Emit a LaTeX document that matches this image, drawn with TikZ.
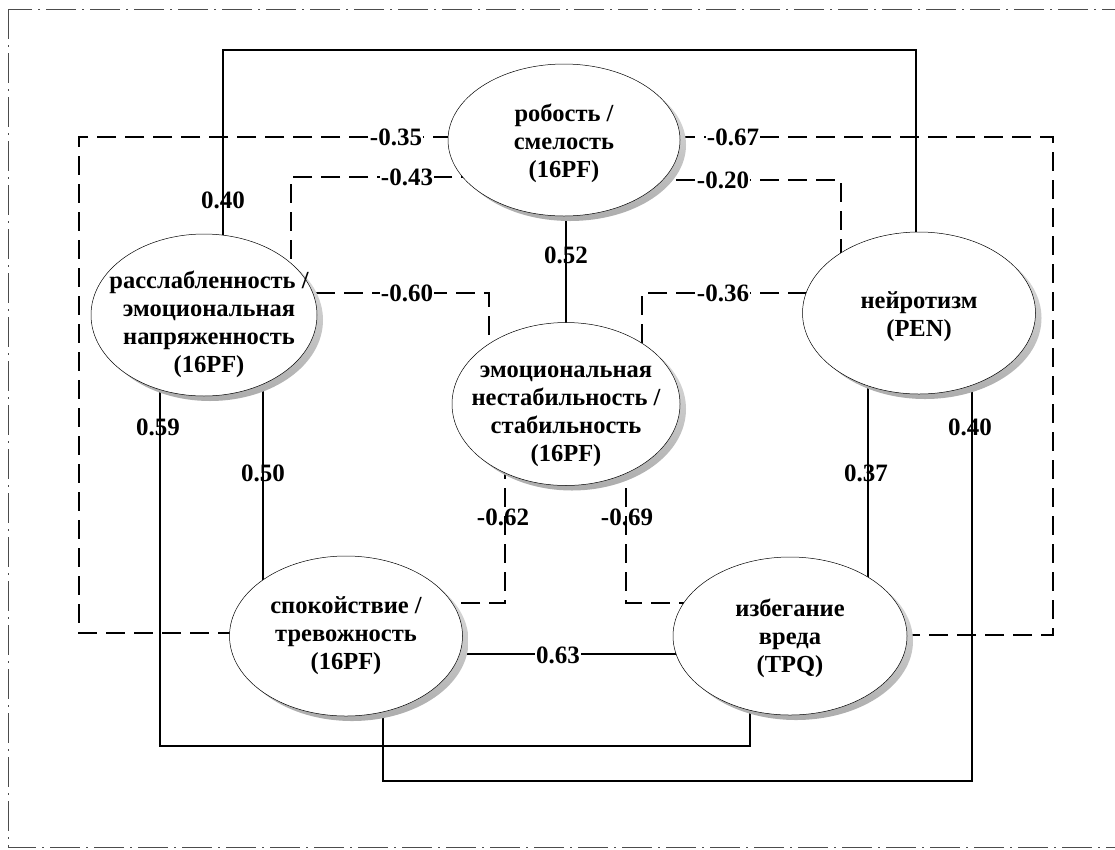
\documentclass[tikz,border=0pt]{standalone}
\usepackage{fontspec}
\setmainfont{Liberation Serif}
\usetikzlibrary{shapes.geometric,shadows}
\pgfdeclarelayer{bg}
\pgfsetlayers{bg,main}
\begin{document}
\begin{tikzpicture}[x=1pt,y=-1pt,
    factor/.style={ellipse,draw=black,line width=0.5pt,fill=white,inner sep=0pt,
      general shadow={shadow xshift=6pt,shadow yshift=-5pt,top color=gray!20,bottom color=gray!65}},
    ftext/.style={align=center,inner sep=0pt,font=\fontsize{24.5}{28}\selectfont\bfseries},
    poslink/.style={line width=1.8pt},
    neglink/.style={line width=1.8pt,dash pattern=on 19pt off 9pt},
    hlab/.style={fill=white,inner sep=1pt,font=\fontsize{25}{28}\selectfont\bfseries},
    vlab/.style={inner sep=1pt,font=\fontsize{25}{28}\selectfont\bfseries},
    frame/.style={line width=0.9pt,gray!60!black,dash pattern=on 30pt off 6pt on 2pt off 6pt}]
  \useasboundingbox (0,0) rectangle (1115,849);
  \draw[frame] (8,9) rectangle (1140,847);

  % factors
  \node[factor,minimum width=232pt,minimum height=152pt] (timid) at (564,140) {};
  \node[factor,minimum width=226pt,minimum height=162pt] (relax) at (204,315) {};
  \node[factor,minimum width=228pt,minimum height=163pt] (unstab) at (566,404) {};
  \node[factor,minimum width=233pt,minimum height=162pt] (neuro) at (919,313) {};
  \node[factor,minimum width=233pt,minimum height=160pt] (calm) at (346,636) {};
  \node[factor,minimum width=234pt,minimum height=158pt] (harm) at (790,636) {};

  \node[ftext] (timid-t) at ([yshift=-3pt]timid.center) {робость /\\смелость\\(16PF)};
  \node[ftext] (relax-t) at ([xshift=5pt,yshift=-9pt]relax.center) {расслабленность /\\эмоциональная\\напряженность\\(16PF)};
  \node[ftext] (unstab-t) at ([yshift=-12pt]unstab.center) {эмоциональная\\нестабильность /\\стабильность\\(16PF)};
  \node[ftext] (neuro-t) at ([yshift=-4pt]neuro.center) {нейротизм\\(PEN)};
  \node[ftext] (calm-t) at (calm.center) {спокойствие /\\тревожность\\(16PF)};
  \node[ftext] (harm-t) at ([yshift=-2pt]harm.center) {избегание\\вреда\\(TPQ)};

  \coordinate (top) at (565,50);
  \coordinate (bot1) at (455,746);
  \coordinate (bot2) at (677,781);
  \coordinate (lbend) at (79,400);
  \coordinate (rbend) at (1053,400);

  \begin{pgfonlayer}{bg}
    % positive links
    \draw[poslink] ([xshift=19pt]relax.center) |- (top) -| ([xshift=-3pt]neuro.center);
    \draw[poslink] ([xshift=2pt]timid.center) -- ([xshift=0pt]unstab.center);
    \draw[poslink] ([xshift=-44pt]relax.center) |- (bot1) -| ([xshift=-40pt]harm.center);
    \draw[poslink] ([xshift=59pt]relax.center) -- ([xshift=-83pt]calm.center);
    \draw[poslink] ([yshift=-18pt]calm.center) -- ([yshift=-18pt]harm.center);
    \draw[poslink] ([xshift=-51pt]neuro.center) -- ([xshift=78pt]harm.center);
    \draw[poslink] ([xshift=53pt]neuro.center) |- (bot2) -| ([xshift=37pt]calm.center);

    % negative links
    \draw[neglink] ([yshift=3pt]timid.center) -| (lbend) |- ([yshift=3pt]calm.center);
    \draw[neglink] ([yshift=-37pt]timid.center) -| ([xshift=87pt]relax.center);
    \draw[neglink] ([yshift=3pt]timid.center) -| (rbend) |- ([yshift=1pt]harm.center);
    \draw[neglink] ([yshift=-40pt]timid.center) -| ([xshift=-78pt]neuro.center);
    \draw[neglink] ([yshift=22pt]relax.center) -| ([xshift=-77pt]unstab.center);
    \draw[neglink] ([yshift=20pt]neuro.center) -| ([xshift=76pt]unstab.center);
    \draw[neglink] ([xshift=-61pt]unstab.center) |- ([yshift=33pt]calm.center);
    \draw[neglink] ([xshift=60pt]unstab.center) |- ([yshift=33pt]harm.center);
  \end{pgfonlayer}

  % coefficients
  \node[vlab] (r1) at (223,200) {0.40};
  \node[vlab] (r2) at (566,255) {0.52};
  \node[vlab] (r3) at (158,427) {0.59};
  \node[vlab] (r4) at (263,473) {0.50};
  \node[hlab] (r5) at (558,655) {0.63};
  \node[vlab] (r6) at (866,473) {0.37};
  \node[vlab] (r7) at (970,427) {0.40};
  \node[hlab] (r8) at (396,137) {-0.35};
  \node[hlab] (r9) at (407,177) {-0.43};
  \node[hlab] (r10) at (733,137) {-0.67};
  \node[hlab] (r11) at (723,180) {-0.20};
  \node[hlab] (r12) at (407,293) {-0.60};
  \node[hlab] (r13) at (723,293) {-0.36};
  \node[vlab] (r14) at (503,517) {-0.62};
  \node[vlab] (r15) at (627,517) {-0.69};
\end{tikzpicture}
\end{document}
